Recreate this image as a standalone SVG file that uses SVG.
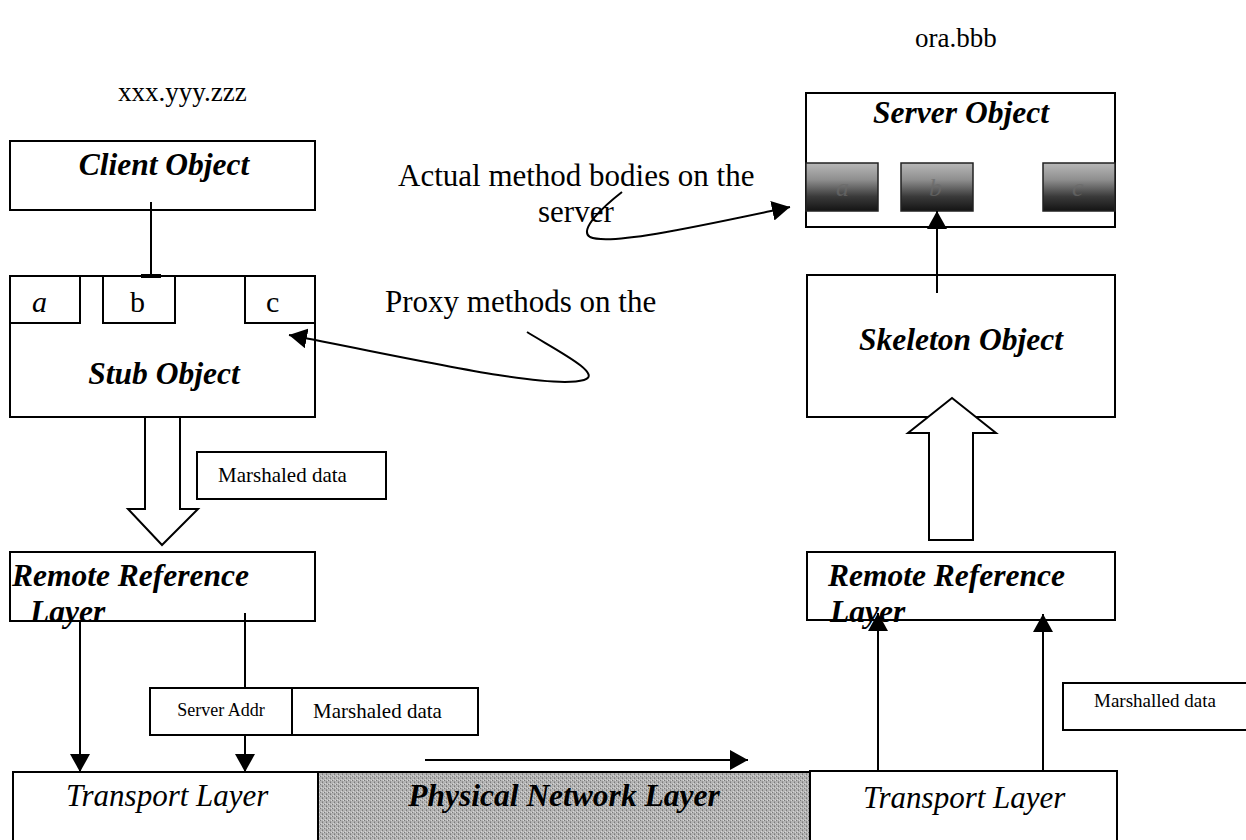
<svg xmlns="http://www.w3.org/2000/svg" width="1246" height="840" viewBox="0 0 1246 840">
  <style>
    .box { fill: #fff; stroke: #000; stroke-width: 2; }
    .line { fill: none; stroke: #000; stroke-width: 2; }
    .hollow { fill: #fff; stroke: #000; stroke-width: 2; stroke-linejoin: miter; }
    .title { font-family: "Liberation Serif", "Times New Roman", serif; font-size: 31.5px; font-weight: bold; font-style: italic; fill: #000; }
    .ital { font-family: "Liberation Serif", "Times New Roman", serif; font-size: 31px; font-style: italic; fill: #000; }
    .serif { font-family: "Liberation Serif", "Times New Roman", serif; font-size: 31px; fill: #000; }
    .letter { font-family: "Liberation Serif", "Times New Roman", serif; font-size: 30px; fill: #000; }
    .host { font-family: "Liberation Serif", "Times New Roman", serif; font-size: 27px; fill: #000; }
    .small { font-family: "Liberation Serif", "Times New Roman", serif; font-size: 21px; fill: #000; }
    .tiny { font-family: "Liberation Serif", "Times New Roman", serif; font-size: 18px; fill: #000; }
    .method { stroke: #222; stroke-width: 1.5; fill: url(#methodShade); }
    .faint { font-family: "Liberation Serif", "Times New Roman", serif; font-size: 26px; font-style: italic; fill: #6a6a6a; opacity: 0.7; }
  </style>
  <defs>
    <marker id="arrow" viewBox="0 0 18 20" refX="18" refY="10" markerWidth="18" markerHeight="20" markerUnits="userSpaceOnUse" orient="auto">
      <path d="M0,0 L18,10 L0,20 z" fill="#000"/>
    </marker>
    <linearGradient id="methodShade" x1="0" y1="0" x2="0" y2="1">
      <stop offset="0" stop-color="#b8b8b8"/>
      <stop offset="0.35" stop-color="#8e8e8e"/>
      <stop offset="0.7" stop-color="#3a3a3a"/>
      <stop offset="1" stop-color="#141414"/>
    </linearGradient>
    <pattern id="dither" width="4" height="4" patternUnits="userSpaceOnUse">
      <rect width="4" height="4" fill="#b4b4b4"/>
      <rect x="0" y="0" width="1" height="1" fill="#7a7a7a"/>
      <rect x="2" y="2" width="1" height="1" fill="#7a7a7a"/>
      <rect x="3" y="0" width="1" height="1" fill="#d6d6d6"/>
      <rect x="1" y="3" width="1" height="1" fill="#d6d6d6"/>
      <rect x="2" y="1" width="1" height="1" fill="#929292"/>
    </pattern>
  </defs>

  <!-- host names -->
  <text class="host" x="118" y="101">xxx.yyy.zzz</text>
  <text class="host" x="915" y="47">ora.bbb</text>

  <!-- client side -->
  <g id="client-object">
    <rect class="box" x="10" y="141" width="305" height="69"/>
    <text class="title" x="164" y="175" text-anchor="middle">Client Object</text>
  </g>

  <g id="stub-object">
    <rect class="box" x="10" y="276" width="305" height="141"/>
    <rect class="box" x="10" y="276" width="70" height="47"/>
    <rect class="box" x="103" y="276" width="72" height="47"/>
    <rect class="box" x="245" y="276" width="70" height="47"/>
    <text class="letter" x="32" y="312" font-style="italic">a</text>
    <text class="letter" x="130" y="312">b</text>
    <text class="letter" x="266" y="312">c</text>
    <text class="title" x="164" y="384" text-anchor="middle">Stub Object</text>
  </g>

  <g id="marshaled-data-client">
    <rect class="box" x="197" y="452" width="189" height="47"/>
    <text class="small" x="218" y="482">Marshaled data</text>
  </g>

  <g id="remote-ref-client">
    <rect class="box" x="10" y="552" width="305" height="69"/>
    <text class="title" x="12" y="586">Remote Reference</text>
    <text class="title" x="30" y="622">Layer</text>
  </g>

  <g id="packet">
    <rect class="box" x="150" y="688" width="328" height="47"/>
    <line class="line" x1="292" y1="688" x2="292" y2="735"/>
    <text class="tiny" x="221" y="716" text-anchor="middle">Server Addr</text>
    <text class="small" x="313" y="718">Marshaled data</text>
  </g>

  <!-- bottom layers -->
  <g id="transport-client">
    <rect class="box" x="13" y="772" width="305" height="80"/>
    <text class="ital" x="66" y="806">Transport Layer</text>
  </g>

  <g id="physical-network">
    <rect x="318" y="772" width="492" height="80" fill="url(#dither)" stroke="#000" stroke-width="2"/>
    <text class="title" x="564" y="806" text-anchor="middle" fill="#111">Physical Network Layer</text>
  </g>

  <g id="transport-server">
    <rect class="box" x="810" y="771" width="307" height="80"/>
    <text class="ital" x="863" y="808">Transport Layer</text>
  </g>

  <!-- server side -->
  <g id="server-object">
    <rect class="box" x="806" y="93" width="309" height="134"/>
    <text class="title" x="961" y="123" text-anchor="middle">Server Object</text>
    <rect class="method" x="806" y="163" width="72" height="48"/>
    <rect class="method" x="901" y="163" width="72" height="48"/>
    <rect class="method" x="1043" y="163" width="72" height="48"/>
    <text class="faint" x="836" y="196">a</text>
    <text class="faint" x="929" y="196">b</text>
    <text class="faint" x="1072" y="196">c</text>
  </g>

  <g id="skeleton-object">
    <rect class="box" x="807" y="275" width="308" height="142"/>
    <text class="title" x="961" y="350" text-anchor="middle">Skeleton Object</text>
  </g>

  <g id="remote-ref-server">
    <rect class="box" x="807" y="552" width="308" height="68"/>
    <text class="title" x="828" y="586">Remote Reference</text>
    <text class="title" x="830" y="622">Layer</text>
  </g>

  <g id="marshalled-data-server">
    <rect class="box" x="1063" y="683" width="190" height="47"/>
    <text class="small" x="1094" y="707" style="font-size:19px">Marshalled data</text>
  </g>

  <!-- annotations -->
  <g id="note-actual">
    <text class="serif" x="398" y="186">Actual method bodies on the</text>
    <text class="serif" x="538" y="222">server</text>
  </g>
  <g id="note-proxy">
    <text class="serif" x="385" y="312">Proxy methods on the</text>
  </g>

  <!-- connectors -->
  <g id="connectors">
    <!-- client to stub method b -->
    <line class="line" x1="151" y1="202" x2="151" y2="276"/>
    <line x1="141" y1="276" x2="161" y2="276" stroke="#000" stroke-width="4"/>

    <!-- stub to remote reference (marshaled data) -->
    <polygon class="hollow" points="145,417 180,417 180,509 198,509 162,545 128,509 145,509"/>

    <!-- remote reference to transport -->
    <line class="line" x1="80" y1="621" x2="80" y2="772" marker-end="url(#arrow)"/>
    <line class="line" x1="245" y1="613" x2="245" y2="688"/>
    <line class="line" x1="245" y1="735" x2="245" y2="772" marker-end="url(#arrow)"/>

    <!-- across the network -->
    <line class="line" x1="425" y1="760" x2="748" y2="760" marker-end="url(#arrow)"/>

    <!-- transport to remote reference on server -->
    <line class="line" x1="878" y1="771" x2="878" y2="613" marker-end="url(#arrow)"/>
    <line class="line" x1="1043" y1="771" x2="1043" y2="614" marker-end="url(#arrow)"/>

    <!-- remote reference to skeleton -->
    <polygon class="hollow" points="929,540 973,540 973,433 996,433 952,398 908,433 929,433"/>

    <!-- skeleton to server method b -->
    <line class="line" x1="937" y1="293" x2="937" y2="211" marker-end="url(#arrow)"/>

    <!-- callouts -->
    <path class="line" d="M622,192 C604,206 578,230 590,237 C610,246 700,226 790,207" marker-end="url(#arrow)"/>
    <path class="line" d="M527,332 C556,350 604,374 584,380 C548,390 420,360 289,335" marker-end="url(#arrow)"/>
  </g>
</svg>
